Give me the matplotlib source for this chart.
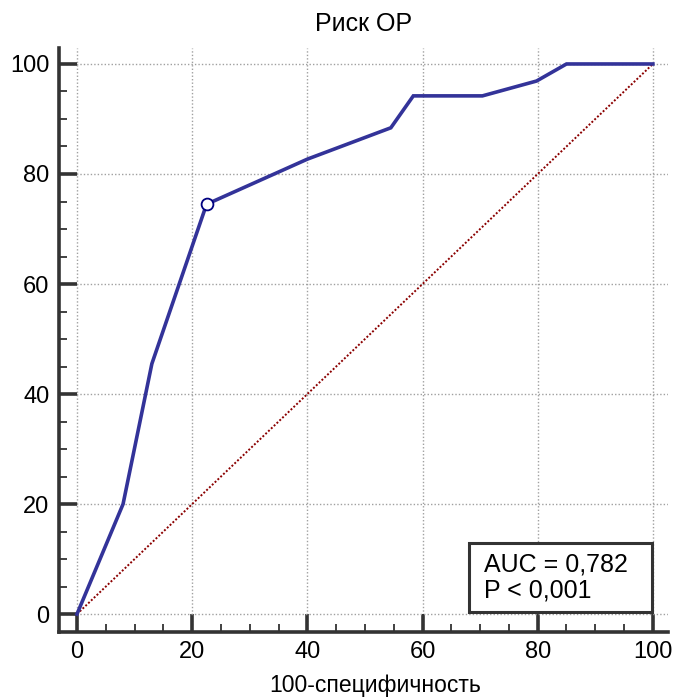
import matplotlib
matplotlib.use("Agg")
import matplotlib.pyplot as plt
from matplotlib.patches import Rectangle
from matplotlib.ticker import MultipleLocator

# ROC curve points
fpr = [0, 8.0, 13.0, 22.5, 40.0, 54.5, 58.4, 70.4, 79.8, 85.0, 100]
tpr = [0, 20.0, 45.5, 74.5, 82.7, 88.4, 94.2, 94.2, 96.9, 100, 100]
cut_x, cut_y = 22.5, 74.5
auc_text = "AUC = 0,782\nP < 0,001"

plt.rcParams['font.family'] = ['Liberation Sans', 'DejaVu Sans']

fig = plt.figure(figsize=(6.75, 6.97), dpi=100)
ax = fig.add_axes([0.0874, 0.0937, 0.902, 0.8374])

ax.plot([0, 100], [0, 100], linestyle=(0, (1, 1)), color='#8b0000', lw=1.4, zorder=2)
ax.plot(fpr, tpr, color='#333399', lw=2.6, zorder=3, solid_joinstyle='miter')
ax.plot([cut_x], [cut_y], 'o', ms=8.5, mfc='white', mec='#000080', mew=1.3, zorder=4)

ax.set_xlim(-3.125, 102.6)
ax.set_ylim(-3.2, 102.9)
ax.xaxis.set_major_locator(MultipleLocator(20))
ax.xaxis.set_minor_locator(MultipleLocator(5))
ax.yaxis.set_major_locator(MultipleLocator(20))
ax.yaxis.set_minor_locator(MultipleLocator(5))

ax.grid(True, which='major', linestyle=(0, (1, 1.5)), color='#a0a0a0', lw=1.0, zorder=1)

for s in ['top', 'right']:
    ax.spines[s].set_visible(False)
for s in ['left', 'bottom']:
    ax.spines[s].set_linewidth(2.6)
    ax.spines[s].set_color('#333333')

ax.tick_params(which='major', direction='in', length=13, width=2.6, color='#333333',
               labelsize=17, pad=7)
ax.tick_params(which='minor', direction='in', length=6, width=1.3, color='#333333')

ax.set_title('Риск ОР', fontsize=18, pad=12)
ax.set_xlabel('100-специфичность', fontsize=16.5)
ax.xaxis.set_label_coords(0.52, -0.072)

# AUC box
ax.add_patch(Rectangle((0.673, 0.0337), 0.301, 0.118, transform=ax.transAxes,
                       fc='white', ec='#333333', lw=2.2, zorder=5))
ax.text(0.698, 0.093, auc_text, transform=ax.transAxes, ha='left', va='center',
        fontsize=18, linespacing=1.1, zorder=6)

fig.savefig('out.png', dpi=100)
